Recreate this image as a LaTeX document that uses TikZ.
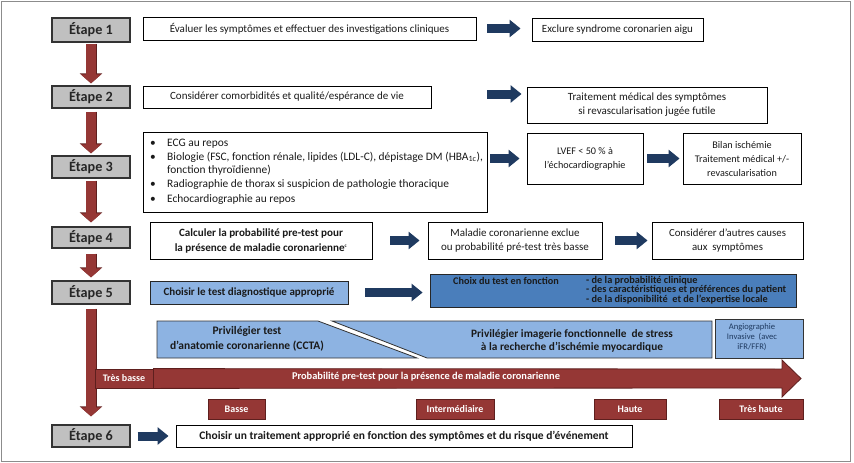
\documentclass[tikz,border=0pt]{standalone}
\usepackage{fontspec}
\setmainfont{Carlito}
\usetikzlibrary{arrows.meta}
\definecolor{dred}{HTML}{953735}
\definecolor{dredb}{HTML}{5E1F1E}
\definecolor{navy}{HTML}{1F3A60}
\definecolor{lblue}{HTML}{8DB3E2}
\definecolor{mblue}{HTML}{4A7EBB}
\definecolor{egray}{HTML}{C0C0C0}
\definecolor{framec}{HTML}{8C8C8C}
\definecolor{txt}{HTML}{1A1A1A}
\begin{document}
\begin{tikzpicture}[x=1pt,y=-1pt,
  etape/.style={draw=black!80, line width=1.3pt, fill=egray, minimum width=78pt,
    minimum height=22pt, inner sep=0pt, text=black!85,
    font=\fontsize{14.2}{15}\selectfont\bfseries},
  wbox/.style={draw=black, line width=0.9pt, fill=white, inner sep=0pt, align=center,
    text=txt, font=\fontsize{11}{14}\selectfont},
  bbox/.style={wbox, font=\fontsize{11.1}{15}\selectfont\bfseries},
  lbbox/.style={draw=black!85, line width=0.8pt, fill=lblue, inner sep=0pt, align=center,
    text=txt, font=\fontsize{11}{12}\selectfont\bfseries},
  redlab/.style={draw=dredb, line width=0.8pt, fill=dred, inner sep=0pt, text=white,
    font=\fontsize{10}{10}\selectfont\bfseries, minimum height=20pt},
  barrow/.style={draw=navy, line width=9pt, -{Triangle[length=11pt,width=17pt]}},
  rarrow/.style={draw=dred, line width=9.5pt, -{Triangle[length=9pt,width=20pt]},
    preaction={draw=dredb, line width=11pt, -{Triangle[length=10pt,width=22pt]}}},
]
\useasboundingbox (0,0) rectangle (854,463);
\draw[framec, line width=1pt] (1,1) rectangle (850,461);

% Etape boxes
\node[etape, minimum height=24pt] (e1) at (91,30) {Étape 1};
\node[etape] (e2) at (91,97) {Étape 2};
\node[etape] (e3) at (91,167) {Étape 3};
\node[etape, minimum height=21pt] (e4) at (91,237.5) {Étape 4};
\node[etape, minimum height=23pt] (e5) at (91,292.5) {Étape 5};
\node[etape] (e6) at (91,436) {Étape 6};

\draw[rarrow] ([yshift=-1pt]e1.south) -- ([yshift=2pt]e2.north);
\draw[rarrow] ([yshift=-3pt]e2.south) -- ([yshift=2pt]e3.north);
\draw[rarrow] ([yshift=-2pt]e3.south) -- ([yshift=4pt]e4.north);
\draw[rarrow] ([yshift=-5pt]e4.south) -- ([yshift=3pt]e5.north);
\draw[rarrow] ([yshift=-4pt]e5.south) -- ([yshift=8pt]e6.north);

% Row 1
\node[wbox, minimum width=333pt, minimum height=23pt] (a1) at (309.5,28.5)
  {Évaluer les symptômes et effectuer des investigations cliniques};
\node[wbox, minimum width=171pt, minimum height=23pt] (b1) at (617.5,29.5)
  {Exclure syndrome coronarien aigu};
\draw[barrow] ([xshift=11pt]a1.east) -- ([xshift=-11pt]b1.west |- a1.east);

% Row 2
\node[wbox, minimum width=288pt, minimum height=22pt] (a2) at (287,97)
  {Considérer comorbidités et qualité/espérance de vie};
\node[wbox, minimum width=240pt, minimum height=36pt] (b2) at (647,105)
  {Traitement médical des symptômes\\si revascularisation jugée futile};
\draw[barrow] ([xshift=56pt,yshift=3pt]a2.east) -- ([xshift=-5pt,yshift=3pt]b2.west |- a2.east);

% Row 3
\node[wbox, minimum width=344pt, minimum height=80pt] (a3) at (315,172) {};
\node[anchor=west, inner sep=0pt, align=left, text=txt,
  font=\fontsize{11.4}{13}\selectfont] (a3t) at (150,172) {%
  \begin{tabular}{@{}p{17pt}@{}l@{}}
  \textbullet & ECG au repos\\[0.5pt]
  \textbullet & Biologie (FSC, fonction rénale, lipides (LDL-C), dépistage DM (HBA\textsubscript{1c}),\\
   & fonction thyroïdienne)\\[1.5pt]
  \textbullet & Radiographie de thorax si suspicion de pathologie thoracique\\[1.5pt]
  \textbullet & Echocardiographie au repos
  \end{tabular}};
\node[wbox, minimum width=116pt, minimum height=51pt, font=\fontsize{10.2}{14}\selectfont] (c3) at (585,158.5)
  {LVEF < 50 \% à\\l’échocardiographie};
\node[wbox, minimum width=118pt, minimum height=51pt, font=\fontsize{10.2}{14}\selectfont] (d3) at (742,158.5)
  {Bilan ischémie\\Traitement médical +/-\\revascularisation};
\draw[barrow] ([xshift=3pt]a3.east |- c3.west) -- ([xshift=-7pt]c3.west);
\draw[barrow] ([xshift=4pt]c3.east) -- ([xshift=-3pt]d3.west);

% Row 4
\node[bbox, minimum width=222pt, minimum height=37pt] (a4) at (261,240.5)
  {Calculer la probabilité pre-test pour\\la présence de maladie coronarienne\textsuperscript{\tiny c}};
\node[wbox, minimum width=174pt, minimum height=37pt] (b4) at (515,240.5)
  {Maladie coronarienne exclue\\ou probabilité pré-test très basse};
\node[wbox, minimum width=151pt, minimum height=37pt, font=\fontsize{10.8}{14}\selectfont] (c4) at (727.5,240.5)
  {Considérer d’autres causes\\aux\ \ symptômes};
\draw[barrow] ([xshift=18pt]a4.east) -- ([xshift=-8pt]b4.west);
\draw[barrow] ([xshift=13pt]b4.east) -- ([xshift=-4pt]c4.west);

% Row 5
\node[lbbox, minimum width=198pt, minimum height=23pt] (a5) at (249,292.5)
  {Choisir le test diagnostique approprié};
\node[draw=black!85, line width=0.8pt, fill=mblue, minimum width=366pt, minimum height=33pt,
  inner sep=0pt] (b5) at (613,290.5) {};
\draw[barrow] ([xshift=17pt]a5.east) -- ([xshift=-7pt]b5.west |- a5.east);
\node[anchor=west, inner sep=0pt, text=txt, font=\fontsize{10.2}{9.5}\selectfont\bfseries]
  (b5t) at (453,281) {Choix du test en fonction};
\node[anchor=north west, inner sep=0pt, align=left, text=txt,
  font=\fontsize{10.3}{9.4}\selectfont\bfseries] (b5l) at (586,276)
  {- de la probabilité clinique\\- des caractéristiques et préférences du patient\\- de la disponibilité\ \ et de l’expertise locale};

% Privilegier polygons
\draw[draw=black!80, line width=0.8pt, fill=lblue] (157,321) -- (318,321) -- (417,358) -- (157,358) -- cycle;
\draw[draw=black!80, line width=0.8pt, fill=lblue] (332,321) -- (712,321) -- (712,358) -- (427,358) -- cycle;
\node[align=center, text=txt, inner sep=0pt, font=\fontsize{11.5}{15}\selectfont\bfseries]
  (p1) at (247,338.5) {Privilégier test\\d’anatomie coronarienne (CCTA)};
\node[align=center, text=txt, inner sep=0pt, font=\fontsize{11.3}{13}\selectfont\bfseries]
  (p2) at (572,340.5) {Privilégier imagerie fonctionnelle\ \ de stress\\à la recherche d’ischémie myocardique};
\node[draw=black!80, line width=0.8pt, fill=lblue, minimum width=88pt, minimum height=39pt,
  inner sep=0pt] (p3) at (759,338.5) {};
\node[align=center, text=navy, inner sep=0pt, font=\fontsize{8.6}{10}\selectfont]
  (p3t) at (752,337) {Angiographie\\Invasive\ \ (avec\\iFR/FFR)};

% Probability arrow
\node[redlab, minimum width=58pt, minimum height=19pt] (tb) at (124,378.5) {Très basse};
\draw[draw=dredb, line width=0.8pt, fill=dred] (tb.north east) -- (782,369) -- (782,360)
  -- (801,378.5) -- (782,397) -- (782,388) -- (tb.south east) -- cycle;
\node[text=white, inner sep=0pt, font=\fontsize{10.4}{11}\selectfont\bfseries] (pt) at (426,376.5)
  {Probabilité pre-test pour la présence de maladie coronarienne};

\node[redlab, minimum width=57pt] (l1) at (236.5,409) {Basse};
\node[redlab, minimum width=78pt] (l2) at (455,409) {Intermédiaire};
\node[redlab, minimum width=72pt] (l3) at (630,409) {Haute};
\node[redlab, minimum width=84pt] (l4) at (761,409) {Très haute};

% Row 6
\node[wbox, minimum width=456pt, minimum height=22pt, font=\fontsize{11.5}{13}\selectfont\bfseries]
  (a6) at (404,436) {Choisir un traitement approprié en fonction des symptômes et du risque d'événement};
\draw[barrow] ([xshift=7pt]e6.east) -- ([xshift=-7pt]a6.west);
\end{tikzpicture}
\end{document}
